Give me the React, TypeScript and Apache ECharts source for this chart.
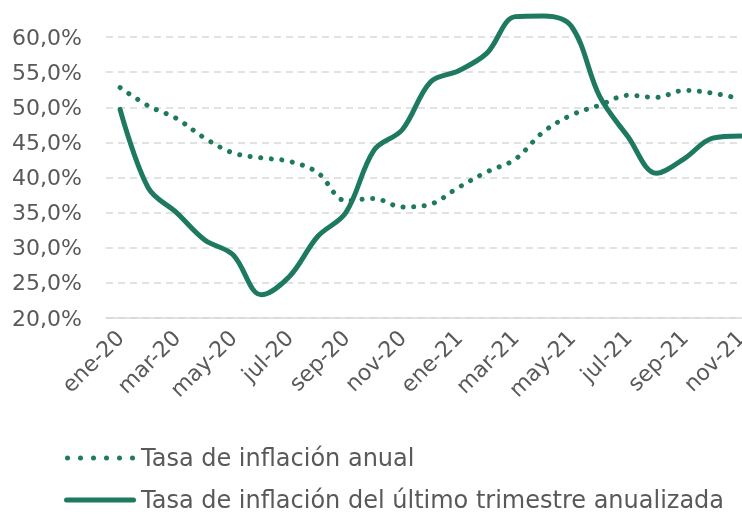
import React, { useEffect, useRef } from "react";
import * as echarts from "echarts";

const categories = [
  "ene-20", "feb-20", "mar-20", "abr-20", "may-20", "jun-20", "jul-20", "ago-20",
  "sep-20", "oct-20", "nov-20", "dic-20", "ene-21", "feb-21", "mar-21", "abr-21",
  "may-21", "jun-21", "jul-21", "ago-21", "sep-21", "oct-21", "nov-21",
];

const anual = [
  52.8, 50.2, 48.4, 45.6, 43.5, 42.8, 42.3, 40.7, 36.7, 37.0, 35.8, 36.2,
  38.6, 40.8, 42.6, 46.5, 48.9, 50.3, 51.7, 51.4, 52.4, 52.0, 51.2,
];

const trimestral = [
  49.7, 38.5, 35.0, 31.1, 29.0, 23.3, 25.9, 31.6, 35.0, 43.9, 46.8, 53.6,
  55.2, 57.7, 62.9, 63.0, 61.5, 51.5, 45.8, 40.6, 42.7, 45.6, 45.9,
];

const seriesNames = [
  "Tasa de inflación anual",
  "Tasa de inflación del último trimestre anualizada",
];

const GREEN = "#1d7a61";
const FONT = "DejaVu Sans";
const dotted = { color: GREEN, width: 5, type: [0.1, 10.5], cap: "round" };
const solid = { color: GREEN, width: 5, cap: "round" };

function dotsPath(): string {
  let d = "";
  for (let k = 0; k < 6; k++) {
    const cx = 2.5 + k * 13;
    d += `M${cx - 2.5},2.5 a2.5,2.5 0 1,0 5,0 a2.5,2.5 0 1,0 -5,0 Z `;
  }
  return "path://" + d.trim();
}
const barPath =
  "path://M2.5,0 L69.5,0 A2.5,2.5 0 0,1 69.5,5 L2.5,5 A2.5,2.5 0 0,1 2.5,0 Z";

export default function App() {
  const ref = useRef<HTMLDivElement>(null);
  useEffect(() => {
    if (!ref.current) return;
    const chart = echarts.init(ref.current, null, { renderer: "svg" });
    chart.setOption({
      animation: false,
      textStyle: { fontFamily: FONT },
      grid: {
        left: 106,
        width: 649,
        top: 37,
        bottom: 196,
        containLabel: false,
        outerBoundsMode: "none",
      },
      legend: {
        orient: "vertical",
        left: 64,
        top: 446,
        padding: 0,
        itemWidth: 72,
        itemHeight: 5,
        itemGap: 18,
        textStyle: { fontFamily: FONT, fontSize: 24, color: "#595959" },
        data: [
          { name: seriesNames[0], icon: dotsPath(), itemStyle: { color: GREEN } },
          { name: seriesNames[1], icon: barPath, itemStyle: { color: GREEN } },
        ],
      },
      xAxis: {
        type: "category",
        data: categories,
        boundaryGap: true,
        axisTick: { show: false },
        axisLine: { lineStyle: { color: "#d9d9d9", width: 1.5 } },
        axisLabel: {
          interval: 1,
          rotate: 45,
          margin: 16,
          fontFamily: FONT,
          fontSize: 22,
          color: "#595959",
        },
      },
      yAxis: {
        type: "value",
        min: 20,
        max: 60,
        interval: 5,
        axisLine: { show: false },
        axisTick: { show: false },
        axisLabel: {
          margin: 24,
          fontFamily: FONT,
          fontSize: 22,
          color: "#595959",
          formatter: (v: number) => v.toFixed(1).replace(".", ",") + "%",
        },
        splitLine: { lineStyle: { color: "#d9d9d9", width: 1.5, type: [7, 5] } },
      },
      series: [
        {
          name: seriesNames[0],
          type: "line",
          data: anual,
          smooth: 0.35,
          symbol: "none",
          showSymbol: false,
          clip: false,
          lineStyle: dotted,
          itemStyle: { color: GREEN },
        },
        {
          name: seriesNames[1],
          type: "line",
          data: trimestral,
          smooth: 0.35,
          symbol: "none",
          showSymbol: false,
          clip: false,
          lineStyle: solid,
          itemStyle: { color: GREEN },
        },
      ],
    });
    return () => chart.dispose();
  }, []);
  return (
    <div
      ref={ref}
      style={{ position: "fixed", left: 0, top: 0, width: 742, height: 514 }}
    />
  );
}
